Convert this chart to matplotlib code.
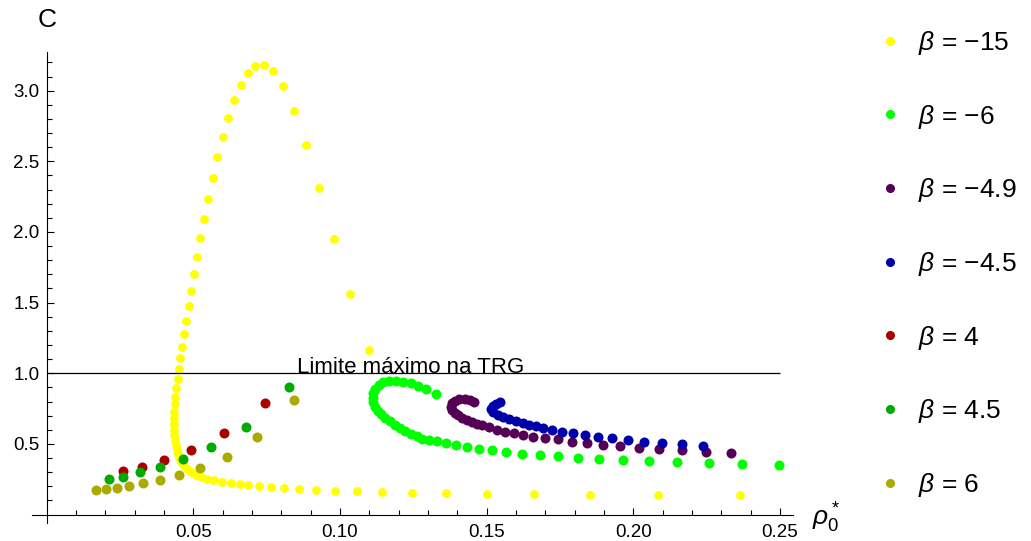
import numpy as np
import matplotlib.pyplot as plt
from matplotlib.lines import Line2D
from matplotlib.ticker import FixedLocator

plt.rcParams['font.family'] = ['Liberation Sans', 'DejaVu Sans']
plt.rcParams['mathtext.fontset'] = 'custom'
plt.rcParams['mathtext.rm'] = 'Liberation Sans'
plt.rcParams['mathtext.it'] = 'Liberation Sans:italic'

# beta = -15
x_m15 = [0.2365, 0.2083, 0.1852, 0.1661, 0.1501, 0.1363, 0.1246, 0.1145, 0.1059,
         0.0982, 0.0917, 0.0860, 0.0808, 0.0764, 0.0723, 0.0686, 0.0659,
         0.0627, 0.0599, 0.0570, 0.0548, 0.0527, 0.0509, 0.0493, 0.0479, 0.0468,
         0.0459, 0.0452, 0.0448, 0.0443, 0.0440, 0.0437, 0.0435, 0.0434, 0.0434,
         0.0434, 0.0435, 0.0436, 0.0439, 0.0442, 0.0447, 0.0451, 0.0456, 0.0461,
         0.0467, 0.0475, 0.0484, 0.0492, 0.0501, 0.0512, 0.0524, 0.0537, 0.0551,
         0.0566, 0.0582, 0.0600, 0.0618, 0.0640, 0.0661, 0.0685, 0.0711, 0.0740,
         0.0772, 0.0805, 0.0842, 0.0884, 0.0929, 0.0980, 0.1035, 0.1099]
y_m15 = [0.137, 0.139, 0.141, 0.146, 0.148, 0.151, 0.155, 0.160, 0.165,
         0.169, 0.174, 0.181, 0.188, 0.195, 0.202, 0.210, 0.217,
         0.226, 0.233, 0.243, 0.252, 0.264, 0.280, 0.299, 0.320, 0.344,
         0.370, 0.398, 0.427, 0.457, 0.493, 0.528, 0.563, 0.599, 0.639,
         0.681, 0.728, 0.783, 0.834, 0.894, 0.957, 1.028, 1.106, 1.188,
         1.278, 1.372, 1.476, 1.585, 1.700, 1.825, 1.958, 2.094, 2.236,
         2.382, 2.529, 2.670, 2.807, 2.934, 3.043, 3.128, 3.177, 3.182,
         3.137, 3.031, 2.858, 2.616, 2.314, 1.953, 1.563, 1.167]

# beta = -6
x_m6 = [0.1327, 0.1294, 0.1267, 0.1241, 0.1216, 0.1191, 0.1168, 0.1148, 0.1132,
        0.1120, 0.1114, 0.1111, 0.1114, 0.1119, 0.1129, 0.1140, 0.1153, 0.1169,
        0.1187, 0.1204, 0.1222, 0.1241, 0.1262, 0.1281, 0.1303, 0.1332, 0.1362,
        0.1397, 0.1433, 0.1474, 0.1519, 0.1567, 0.1622, 0.1681, 0.1742, 0.1810,
        0.1883, 0.1965, 0.2054, 0.2148, 0.2257, 0.2372, 0.2497]
y_m6 = [0.856, 0.887, 0.910, 0.929, 0.941, 0.948, 0.948, 0.936, 0.915,
        0.887, 0.858, 0.827, 0.795, 0.764, 0.735, 0.710, 0.684, 0.660,
        0.636, 0.615, 0.594, 0.573, 0.554, 0.537, 0.528, 0.519, 0.505,
        0.490, 0.478, 0.466, 0.455, 0.443, 0.431, 0.424, 0.415, 0.403,
        0.393, 0.384, 0.377, 0.370, 0.363, 0.356, 0.349]

# beta = -4.9
x_m49 = [0.1458, 0.1443, 0.1426, 0.1407, 0.1391, 0.1381, 0.1377, 0.1382, 0.1391,
         0.1402, 0.1416, 0.1432, 0.1449, 0.1466, 0.1484, 0.1509, 0.1536, 0.1564,
         0.1593, 0.1625, 0.1659, 0.1699, 0.1742, 0.1790, 0.1841, 0.1896, 0.1955,
         0.2019, 0.2089, 0.2165, 0.2247, 0.2334]
y_m49 = [0.795, 0.809, 0.816, 0.816, 0.806, 0.788, 0.764, 0.740, 0.721,
         0.703, 0.686, 0.669, 0.655, 0.643, 0.632, 0.618, 0.601, 0.587,
         0.575, 0.563, 0.551, 0.544, 0.533, 0.516, 0.504, 0.495, 0.485,
         0.473, 0.464, 0.455, 0.445, 0.438]

# beta = -4.5
x_m45 = [0.1546, 0.1532, 0.1521, 0.1516, 0.1523, 0.1538, 0.1557, 0.1577, 0.1600,
         0.1623, 0.1645, 0.1668, 0.1691, 0.1722, 0.1757, 0.1793, 0.1835, 0.1881,
         0.1928, 0.1981, 0.2037, 0.2099, 0.2165, 0.2237]
y_m45 = [0.795, 0.785, 0.766, 0.747, 0.724, 0.707, 0.691, 0.677, 0.662,
         0.648, 0.636, 0.625, 0.613, 0.601, 0.587, 0.575, 0.561, 0.549,
         0.540, 0.528, 0.516, 0.507, 0.500, 0.488]

# beta = 4, 4.5, 6
x_p4 = [0.0261, 0.0324, 0.0400, 0.0491, 0.0605, 0.0744]
y_p4 = [0.311, 0.339, 0.384, 0.457, 0.575, 0.788]
x_p45 = [0.0212, 0.0261, 0.0318, 0.0386, 0.0465, 0.0560, 0.0678, 0.0826]
y_p45 = [0.252, 0.268, 0.299, 0.335, 0.391, 0.476, 0.622, 0.903]
x_p6 = [0.0168, 0.0202, 0.0239, 0.0282, 0.0329, 0.0386, 0.0450, 0.0524, 0.0614,
        0.0717, 0.0843]
y_p6 = [0.174, 0.183, 0.190, 0.202, 0.221, 0.245, 0.280, 0.327, 0.410,
        0.547, 0.809]

labels = ['\u221215', '\u22126', '\u22124.9', '\u22124.5', '4', '4.5', '6']
colors = ['#FFFF00', '#00FF00', '#550055', '#0000AA', '#AA0000', '#00AA00', '#AAAA00']
xs = [x_m15, x_m6, x_m49, x_m45, x_p4, x_p45, x_p6]
ys = [y_m15, y_m6, y_m49, y_m45, y_p4, y_p45, y_p6]
sizes = [40, 52, 52, 52, 52, 52, 52]

fig = plt.figure(figsize=(10.31, 5.41), dpi=100)
ax = fig.add_axes([0.0310, 0.0331, 0.7383, 0.8699])

for x, y, c, s in zip(xs, ys, colors, sizes):
    ax.scatter(x, y, s=s, color=c, linewidths=0)

ax.set_xlim(-0.005, 0.2545)
ax.set_ylim(-0.06, 3.27)
for side in ['top', 'right']:
    ax.spines[side].set_visible(False)
ax.spines['left'].set_position(('data', 0))
ax.spines['bottom'].set_position(('data', 0))
for side in ['left', 'bottom']:
    ax.spines[side].set_linewidth(0.8)

# limit line
ax.hlines(1.0, 0, 0.25, color='black', lw=0.9)
ax.text(0.0852, 1.0, 'Limite máximo na TRG', fontsize=16, va='baseline', ha='left')

xt = [0.05, 0.10, 0.15, 0.20, 0.25]
ax.set_xticks(xt)
ax.set_xticklabels(['%.2f' % v for v in xt])
ax.xaxis.set_minor_locator(FixedLocator([i / 100 for i in range(1, 26) if i % 5]))
yt = [0.5, 1.0, 1.5, 2.0, 2.5, 3.0]
ax.set_yticks(yt)
ax.set_yticklabels(['%.1f' % v for v in yt])
ax.yaxis.set_minor_locator(FixedLocator([i / 10 for i in range(1, 33) if i % 5]))
ax.tick_params(which='both', direction='in', labelsize=13.5, width=0.8)
ax.tick_params(which='major', length=5)
ax.tick_params(which='minor', length=3.5)
ax.tick_params(axis='x', pad=7)
ax.tick_params(axis='y', pad=5)

fig.text(47 / 1031, 1 - 20 / 541, 'C', fontsize=19, ha='center', va='center')
fig.text(826 / 1031, 1 - 518 / 541, r'$\rho_0^*$', fontsize=19, ha='center', va='center')

handles = [Line2D([], [], ls='none', marker='o', ms=5.5, color=c, label='$\\beta$ = ' + l)
           for c, l in zip(colors, labels)]
fig.legend(handles=handles, loc='upper left', bbox_to_anchor=(879 / 1031, 1 - 29 / 541),
           frameon=False, fontsize=19, labelspacing=1.73, handlelength=0.8,
           handletextpad=0.68, borderpad=0, borderaxespad=0)

fig.savefig('out.png', dpi=100)
